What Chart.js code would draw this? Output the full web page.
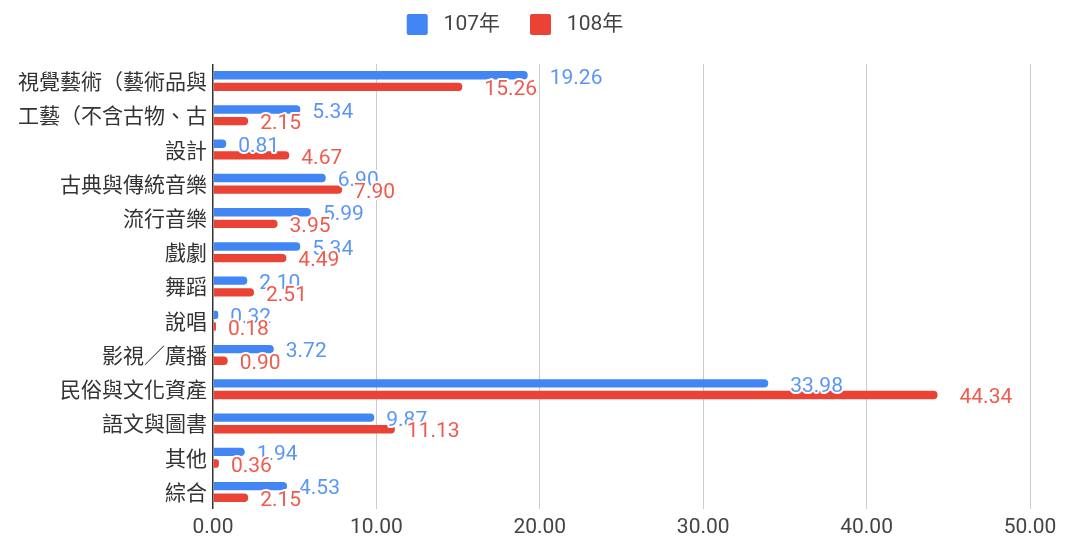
<!DOCTYPE html>
<html>
<head>
<meta charset="utf-8">
<script src="https://cdn.jsdelivr.net/npm/chart.js@4/dist/chart.umd.min.js"></script>
<style>
html,body{margin:0;padding:0;background:#fff;}
#wrap{width:1069px;height:552px;}
</style>
</head>
<body>
<div id="wrap"><canvas id="c" width="1069" height="552"></canvas></div>
<script>
const categories = ['視覺藝術（藝術品與', '工藝（不含古物、古', '設計', '古典與傳統音樂', '流行音樂', '戲劇', '舞蹈', '說唱', '影視／廣播', '民俗與文化資產', '語文與圖書', '其他', '綜合'];
const seriesNames = ['107年', '108年'];
const values107 = [19.26, 5.34, 0.81, 6.90, 5.99, 5.34, 2.10, 0.32, 3.72, 33.98, 9.87, 1.94, 4.53];
const values108 = [15.26, 2.15, 4.67, 7.90, 3.95, 4.49, 2.51, 0.18, 0.90, 44.34, 11.13, 0.36, 2.15];
const xTicks = [0, 10, 20, 30, 40, 50];

const barColors = ['#4285F4', '#EA4335'];
const labelColors = ['#5B96F5', '#EE5B4F'];
const NUM_FONT = "Roboto, 'Noto Sans CJK TC', sans-serif";
const CJK_FONT = "'Noto Sans CJK TC', Roboto, sans-serif";

const labelPlugin = {
  id: 'valueLabels',
  afterDatasetsDraw(chart) {
    const ctx = chart.ctx;
    ctx.save();
    ctx.font = '21px ' + NUM_FONT;
    ctx.textBaseline = 'middle';
    ctx.textAlign = 'left';
    ctx.lineJoin = 'round';
    chart.data.datasets.forEach((ds, di) => {
      const meta = chart.getDatasetMeta(di);
      meta.data.forEach((el, i) => {
        const v = ds.data[i];
        const txt = v.toFixed(2);
        const off = v >= 12 ? 22 : 12;
        const x = el.x + off;
        const y = el.y + 3;
        ctx.lineWidth = 4;
        ctx.strokeStyle = '#ffffff';
        ctx.strokeText(txt, x, y);
        ctx.fillStyle = labelColors[di];
        ctx.fillText(txt, x, y);
      });
    });
    ctx.restore();
  }
};

const legendHeight = {
  id: 'legendHeight',
  beforeInit(chart) {
    const orig = chart.legend.fit;
    chart.legend.fit = function () {
      orig.call(this);
      this.height = 80;
    };
  }
};

new Chart(document.getElementById('c'), {
  type: 'bar',
  data: {
    labels: categories,
    datasets: [
      { label: seriesNames[0], data: values107, backgroundColor: barColors[0], borderRadius: 4, borderSkipped: 'start', categoryPercentage: 0.68, barPercentage: 0.72 },
      { label: seriesNames[1], data: values108, backgroundColor: barColors[1], borderRadius: 4, borderSkipped: 'start', categoryPercentage: 0.68, barPercentage: 0.72 }
    ]
  },
  options: {
    indexAxis: 'y',
    responsive: false,
    animation: false,
    devicePixelRatio: 1,
    layout: { padding: { top: -16, right: 39, left: 0, bottom: 0 } },
    plugins: {
      legend: {
        position: 'top',
        align: 'center',
        labels: {
          boxWidth: 21,
          boxHeight: 21,
          useBorderRadius: true,
          borderRadius: 2,
          padding: 30,
          color: '#444',
          font: { size: 21, family: NUM_FONT },
          generateLabels(chart) {
            const items = Chart.defaults.plugins.legend.labels.generateLabels(chart);
            items.forEach(it => { it.text = '\u2005' + it.text; });
            return items;
          }
        }
      },
      tooltip: { enabled: false }
    },
    scales: {
      x: {
        type: 'linear',
        min: xTicks[0],
        max: xTicks[xTicks.length - 1],
        afterBuildTicks(scale) { scale.ticks = xTicks.map(v => ({ value: v })); },
        afterFit(scale) { scale.height = 43; },
        border: { display: false },
        grid: {
          drawTicks: false,
          color: (c) => (c.tick && c.tick.value === 0 ? '#333333' : '#cccccc'),
          lineWidth: (c) => (c.tick && c.tick.value === 0 ? 1.5 : 1)
        },
        ticks: {
          padding: 6,
          color: '#444',
          font: { size: 21, family: NUM_FONT },
          callback: (v) => Number(v).toFixed(2)
        }
      },
      y: {
        afterFit(scale) { scale.width = 213; },
        border: { display: false },
        grid: { display: false, drawTicks: false },
        ticks: {
          padding: 6,
          color: '#333',
          font: { size: 21, family: CJK_FONT }
        }
      }
    }
  },
  plugins: [labelPlugin, legendHeight]
});
</script>
</body>
</html>
